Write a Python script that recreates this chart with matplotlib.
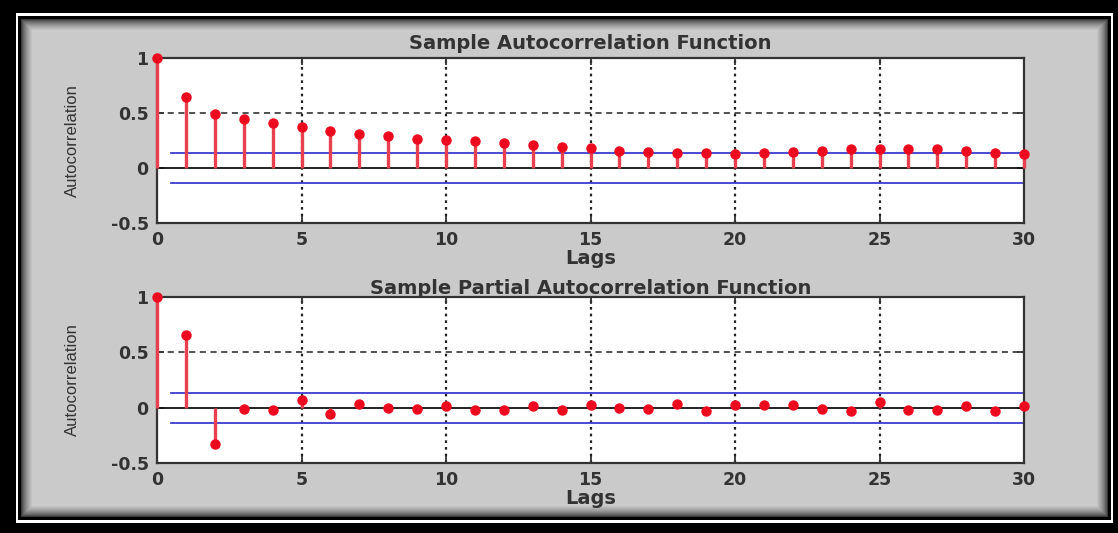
import numpy as np
import matplotlib.pyplot as plt

# sample ACF / PACF values
lags = list(range(0, 31))
acf = [1.0, 0.65, 0.49, 0.45, 0.41, 0.375, 0.34, 0.31, 0.29, 0.266, 0.257,
       0.245, 0.224, 0.21, 0.19, 0.18, 0.157, 0.145, 0.136, 0.136, 0.127,
       0.136, 0.145, 0.157, 0.17, 0.17, 0.17, 0.17, 0.157, 0.136, 0.127]
pacf = [1.0, 0.653, -0.33, -0.01, -0.018, 0.073, -0.054, 0.03, 0.0, -0.01, 0.012,
        -0.018, -0.018, 0.018, -0.018, 0.02, 0.0, -0.01, 0.03, -0.033, 0.02,
        0.02, 0.02, -0.01, -0.033, 0.05, -0.018, -0.018, 0.012, -0.033, 0.012]
acf_bound = 0.136
pacf_bound = 0.136
xticks = [0, 5, 10, 15, 20, 25, 30]
yticks = [-0.5, 0, 0.5, 1]
ytick_labels = ['-0.5', '0', '0.5', '1']

W, H = 1118, 533
fig = plt.figure(figsize=(W / 100, H / 100), dpi=100)

# framed gray background with inner shadow
bg = fig.add_axes([0, 0, 1, 1], zorder=-10)
yy, xx = np.mgrid[0:H, 0:W]
img = np.zeros((H, W))
white = (xx >= 16) & (xx < 1113) & (yy >= 13) & (yy < 523)
img[white] = 1.0
inner = (xx >= 18) & (xx < 1111) & (yy >= 16) & (yy < 520)
d = np.minimum.reduce([xx - 18, 1110 - xx, yy - 16, 519 - yy]).astype(float)
shade = np.clip((d - 2) / 12.0, 0, 1) ** 0.5
img[inner] = (0.79 * shade)[inner]
bg.imshow(img, cmap='gray', vmin=0, vmax=1, aspect='auto', interpolation='nearest')
bg.set_axis_off()

tick_font = dict(family='DejaVu Sans', weight='bold', size=12.5, color='#2a2a2a')
red_line = '#e8404e'
blue = '#3b3bd0'


def draw_panel(ax, values, bound, title, title_pad):
    ax.set_xlim(0, 30)
    ax.set_ylim(-0.5, 1)
    for x in [5, 10, 15, 20, 25]:
        ax.axvline(x, color='#222222', lw=1.6, ls=(0, (1.2, 1.8)), zorder=1)
    ax.axhline(0.5, color='#222222', lw=1.1, ls=(0, (4, 3)), zorder=1)
    ax.axhline(0, color='#111111', lw=1.3, zorder=2)
    ax.plot([0.5, 30], [bound, bound], color=blue, lw=1.3, zorder=2)
    ax.plot([0.5, 30], [-bound, -bound], color=blue, lw=1.3, zorder=2)
    ax.vlines(lags, 0, values, color=red_line, lw=2.4, zorder=3, clip_on=False)
    ax.plot(lags, values, 'o', color='#ee0a1e', ms=6.5, mec='#ee0a1e',
            zorder=4, clip_on=False)
    ax.set_xticks(xticks)
    ax.set_xticklabels([str(t) for t in xticks], fontdict=tick_font)
    ax.set_yticks(yticks)
    ax.set_yticklabels(ytick_labels, fontdict=tick_font)
    ax.tick_params(direction='in', length=5, width=1.3, top=True, right=True,
                   pad=6, colors='#333333')
    for s in ax.spines.values():
        s.set_color('#333333')
        s.set_linewidth(1.6)
    ax.set_xlabel('Lags', fontdict=dict(family='DejaVu Sans', weight='bold',
                                        size=14, color='#333333'), labelpad=0)
    ax.set_ylabel('Autocorrelation', fontdict=dict(family='Liberation Sans',
                                                  size=12, color='#333333'),
                  labelpad=22)
    ax.set_title(title, fontdict=dict(family='DejaVu Sans', weight='bold',
                                      size=14, color='#333333'), pad=title_pad)


ax1 = fig.add_axes([157 / W, 1 - 223 / H, 867 / W, 165 / H])
draw_panel(ax1, acf, acf_bound, 'Sample Autocorrelation Function', 6.5)
ax2 = fig.add_axes([157 / W, 1 - 463 / H, 867 / W, 166 / H])
draw_panel(ax2, pacf, pacf_bound, 'Sample Partial Autocorrelation Function', 2)

fig.savefig('out.png', dpi=100)
